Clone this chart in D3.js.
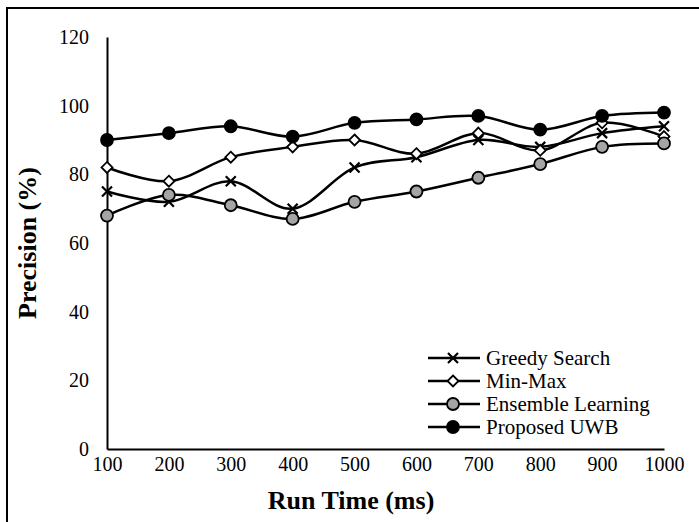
<!DOCTYPE html>
<html>
<head>
<meta charset="utf-8">
<script src="https://cdn.jsdelivr.net/npm/d3@7"></script>
<style>
  body { margin: 0; background: #fff; }
  text { font-family: "Liberation Serif", "Times New Roman", serif; fill: #000; }
</style>
</head>
<body>
<div id="chart"></div>
<script>
//chart data
const runTimes = [100, 200, 300, 400, 500, 600, 700, 800, 900, 1000];
const greedySearch = [75, 72, 78, 70, 82, 85, 90, 88, 92, 94];
const minMax = [82, 78, 85, 88, 90, 86, 92, 87, 95, 91];
const ensembleLearning = [68, 74, 71, 67, 72, 75, 79, 83, 88, 89];
const proposedUWB = [90, 92, 94, 91, 95, 96, 97, 93, 97, 98];
const yTicks = [0, 20, 40, 60, 80, 100, 120];
const seriesNames = ["Greedy Search", "Min-Max", "Ensemble Learning", "Proposed UWB"];

const series = [
    { name: seriesNames[0], values: greedySearch, marker: "x" },
    { name: seriesNames[1], values: minMax, marker: "diamond" },
    { name: seriesNames[2], values: ensembleLearning, marker: "gray" },
    { name: seriesNames[3], values: proposedUWB, marker: "black" }
];

//create svg element
var svg = d3.select("#chart").append("svg")
    .attr("width", 699)
    .attr("height", 522);

//outer frame (right and bottom edges fall outside the picture)
svg.append("rect")
    .attr("x", 7)
    .attr("y", 8)
    .attr("width", 720)
    .attr("height", 540)
    .attr("fill", "none")
    .attr("stroke", "#000")
    .attr("stroke-width", 2);

//scales
var x = d3.scaleLinear()
    .domain([100, 1000])
    .range([107, 664]);

var y = d3.scaleLinear()
    .domain([0, 120])
    .range([449, 37]);

//y axis
var yAxis = svg.append("g")
    .attr("transform", "translate(107,0)")
    .call(d3.axisLeft(y).tickValues(yTicks).tickSize(0).tickPadding(18));
yAxis.select(".domain").attr("stroke-width", 2);
yAxis.selectAll("text")
    .style("font-size", "20px")
    .style("font-family", "Liberation Serif");

//x axis
var xAxis = svg.append("g")
    .attr("transform", "translate(0,449)")
    .call(d3.axisBottom(x).tickValues(runTimes).tickFormat(d3.format("d")).tickSize(0).tickPadding(8));
xAxis.select(".domain").attr("stroke-width", 2);
xAxis.selectAll("text")
    .style("font-size", "20px")
    .style("font-family", "Liberation Serif");

//x-axis label
svg.append("text")
    .attr("text-anchor", "middle")
    .attr("x", 351)
    .attr("y", 509)
    .style("font-size", "26px")
    .style("font-weight", "bold")
    .text("Run Time (ms)");

//y-axis label
svg.append("text")
    .attr("text-anchor", "middle")
    .attr("transform", "translate(36,243) rotate(-90)")
    .style("font-size", "26px")
    .style("font-weight", "bold")
    .text("Precision (%)");

//line generator, smoothed like the original
var line = d3.line()
    .x(function(d, i) { return x(runTimes[i]); })
    .y(function(d) { return y(d); })
    .curve(d3.curveCatmullRom.alpha(0));

//draws a marker of the given type at px,py
function drawMarker(g, type, px, py) {
    if (type == "x") {
        g.append("path")
            .attr("d", "M" + (px - 5) + "," + (py - 5) + "L" + (px + 5) + "," + (py + 5) +
                       "M" + (px - 5) + "," + (py + 5) + "L" + (px + 5) + "," + (py - 5))
            .attr("stroke", "#000")
            .attr("stroke-width", 2.2);
    } else if (type == "diamond") {
        g.append("path")
            .attr("d", "M" + px + "," + (py - 5.5) + "L" + (px + 5.5) + "," + py +
                       "L" + px + "," + (py + 5.5) + "L" + (px - 5.5) + "," + py + "Z")
            .attr("fill", "#fff")
            .attr("stroke", "#000")
            .attr("stroke-width", 1.8);
    } else {
        g.append("circle")
            .attr("cx", px)
            .attr("cy", py)
            .attr("r", 6)
            .attr("fill", type == "gray" ? "#a5a5a5" : "#000")
            .attr("stroke", "#000")
            .attr("stroke-width", 1.8);
    }
}

//draw series lines and markers
series.forEach(function(s) {
    var g = svg.append("g");
    g.append("path")
        .datum(s.values)
        .attr("d", line)
        .attr("fill", "none")
        .attr("stroke", "#000")
        .attr("stroke-width", 2.5);
    s.values.forEach(function(v, i) {
        drawMarker(g, s.marker, x(runTimes[i]), y(v));
    });
});

//legend
series.forEach(function(s, i) {
    var ly = 358 + i * 23;
    var g = svg.append("g");
    g.append("line")
        .attr("x1", 428)
        .attr("x2", 480)
        .attr("y1", ly)
        .attr("y2", ly)
        .attr("stroke", "#000")
        .attr("stroke-width", 2.5);
    drawMarker(g, s.marker, 453, ly);
    g.append("text")
        .attr("x", 486)
        .attr("y", ly)
        .attr("dy", "0.35em")
        .style("font-size", "21px")
        .text(s.name);
});
</script>
</body>
</html>
